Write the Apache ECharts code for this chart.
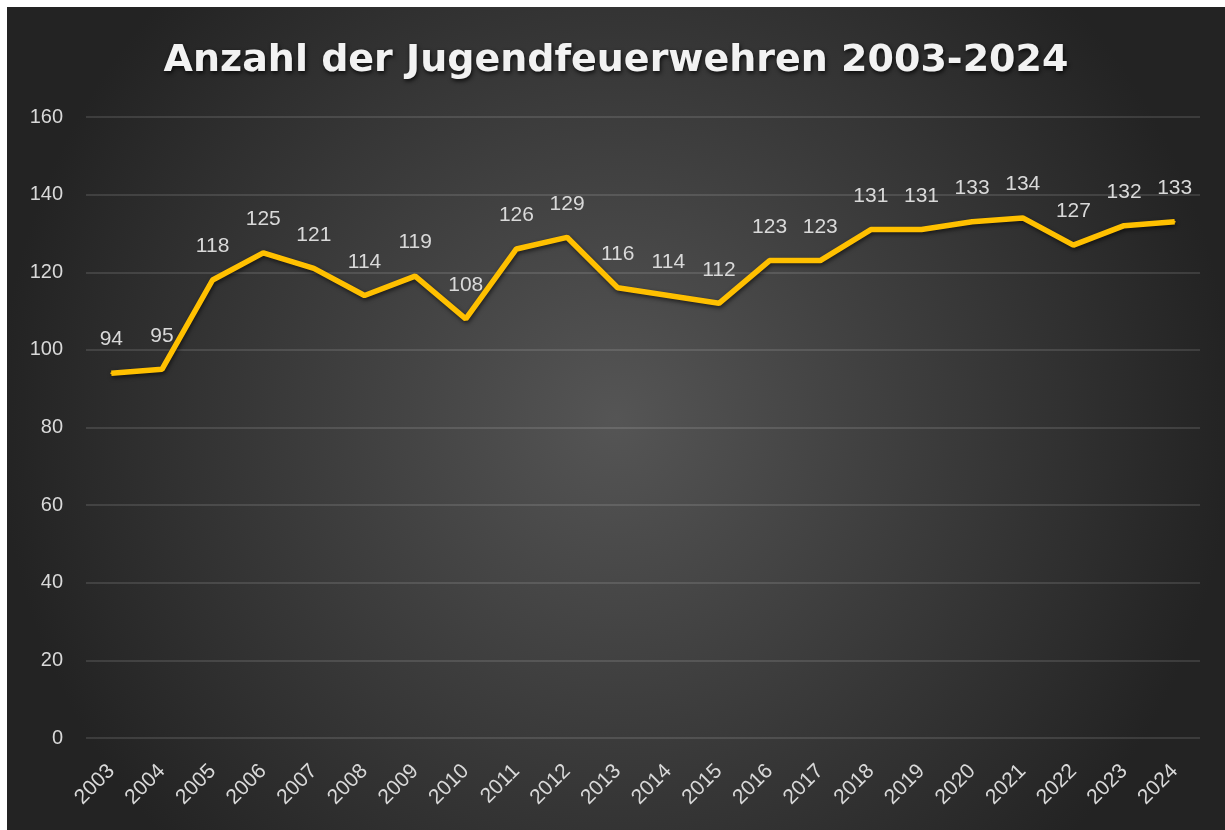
<!DOCTYPE html>
<html>
<head>
<meta charset="utf-8">
<script src="https://cdn.jsdelivr.net/npm/echarts@6/dist/echarts.min.js"></script>
<style>
html,body{margin:0;padding:0;background:#fff;width:1225px;height:830px;overflow:hidden;}
#c{position:absolute;left:7px;top:7px;width:1218px;height:823px;}
</style>
</head>
<body>
<div id="c"></div>
<script>
const years = ['2003','2004','2005','2006','2007','2008','2009','2010','2011','2012','2013','2014','2015','2016','2017','2018','2019','2020','2021','2022','2023','2024'];
const counts = [94,95,118,125,121,114,119,108,126,129,116,114,112,123,123,131,131,133,134,127,132,133];
const yTicks = {min:0, max:160, interval:20};
const titleText = 'Anzahl der Jugendfeuerwehren 2003-2024';

const chart = echarts.init(document.getElementById('c'));
chart.setOption({
  backgroundColor: {
    type:'radial', x:0.5, y:0.5, r:0.75,
    colorStops:[{offset:0,color:'#555555'},{offset:1,color:'#232323'}]
  },
  animation:false,
  title:{
    text:titleText, left:'center', top:30,
    textStyle:{color:'#f2f2f2', fontFamily:'DejaVu Sans', fontWeight:'bold', fontSize:38,
      textShadowColor:'rgba(0,0,0,0.8)', textShadowBlur:4, textShadowOffsetX:1, textShadowOffsetY:2}
  },
  grid:{left:79, right:25, top:110, bottom:92, containLabel:false},
  xAxis:{
    type:'category', data:years, boundaryGap:true,
    axisLine:{show:false}, axisTick:{show:false},
    axisLabel:{color:'#d9d9d9', fontSize:21, fontFamily:'Liberation Sans', rotate:45, margin:30, interval:0}
  },
  yAxis:{
    type:'value', min:yTicks.min, max:yTicks.max, interval:yTicks.interval,
    axisLine:{show:false}, axisTick:{show:false},
    axisLabel:{color:'#d9d9d9', fontSize:20, fontFamily:'Liberation Sans', margin:23},
    splitLine:{lineStyle:{color:'rgba(255,255,255,0.16)', width:1.5}}
  },
  series:[{
    type:'line', data:counts, symbol:'circle', symbolSize:2, showSymbol:true,
    itemStyle:{color:'#FFC000'},
    lineStyle:{color:'#FFC000', width:5.5, shadowColor:'rgba(0,0,0,0.6)', shadowBlur:4, shadowOffsetX:1, shadowOffsetY:2},
    label:{show:true, position:'top', distance:22, color:'#d9d9d9', fontSize:21, fontFamily:'Liberation Sans'},
    labelLayout:{hideOverlap:false}
  }]
});
</script>
</body>
</html>
